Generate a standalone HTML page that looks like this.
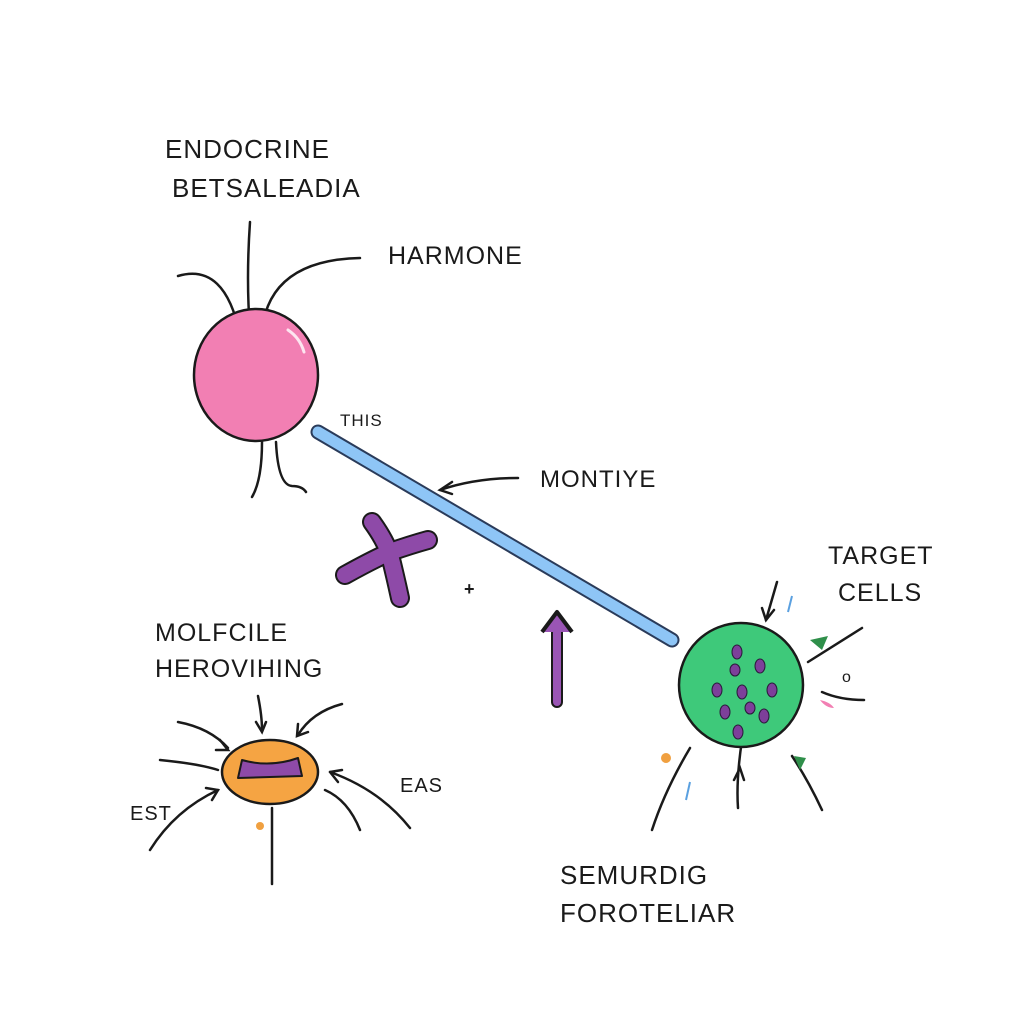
<!DOCTYPE html>
<html><head><meta charset="utf-8"><style>
html,body{margin:0;padding:0;background:#fff;}
svg{display:block}
text{font-family:"Liberation Sans",sans-serif;fill:#1a1a1a;letter-spacing:1px}
</style></head><body>
<svg width="1024" height="1024" viewBox="0 0 1024 1024" xmlns="http://www.w3.org/2000/svg">
<rect width="1024" height="1024" fill="#fff"/>
<g stroke="#1a1a1a" stroke-width="2.5" fill="none" stroke-linecap="round">
<!-- pink cell lines -->
<path d="M250 222 Q246 280 250 330"/>
<path d="M178 276 Q225 262 240 335"/>
<path d="M262 330 Q270 260 360 258"/>
<path d="M262 442 Q262 480 252 497"/>
<path d="M276 442 Q278 485 292 486 Q302 486 306 492"/>
<!-- montiye arrow -->
<path d="M518 478 Q475 478 440 490"/>
<path d="M452 482 L440 490 L452 494"/>
<!-- green cell arrows -->
<path d="M777 582 L766 620"/><path d="M762 608 L766 620 L774 610"/>
<path d="M862 628 L808 662"/>
<path d="M864 700 Q840 700 822 692"/>
<path d="M742 740 Q736 780 738 808"/><path d="M734 780 L740 768 L744 780"/>
<path d="M822 810 Q808 780 792 756"/>
<path d="M690 748 Q665 790 652 830"/>
<!-- orange cell arrows -->
<path d="M258 696 Q262 716 262 730"/><path d="M256 722 L262 732 L266 722"/>
<path d="M342 704 Q312 712 298 735"/><path d="M298 724 L297 736 L308 732"/>
<path d="M178 722 Q210 728 228 748"/><path d="M220 740 L228 750 L216 750"/>
<path d="M160 760 Q200 764 218 770"/>
<path d="M150 850 Q175 810 218 790"/><path d="M206 788 L218 790 L212 800"/>
<path d="M330 772 Q380 790 410 828"/><path d="M330 772 L342 770 M330 772 L338 782"/>
<path d="M325 790 Q348 800 360 830"/>
<path d="M272 808 L272 884"/>
</g>
<!-- pink cell -->
<ellipse cx="256" cy="375" rx="62" ry="66" fill="#f27fb3" stroke="#1a1a1a" stroke-width="2.5"/>
<path d="M288 330 Q300 338 304 352" stroke="#fff" stroke-width="3" fill="none" stroke-linecap="round" opacity=".8"/>
<!-- blue rod -->
<path d="M318 432 L672 640" stroke="#2a3b5a" stroke-width="15" stroke-linecap="round"/>
<path d="M318 432 L672 640" stroke="#8ec5f6" stroke-width="11" stroke-linecap="round"/>
<!-- purple X -->
<path d="M372 522 Q385 540 390 555 Q395 575 400 598 M345 575 Q372 560 390 552 Q410 545 428 540" stroke="#1a1a1a" stroke-width="20" stroke-linecap="round" fill="none"/>
<path d="M372 522 Q385 540 390 555 Q395 575 400 598 M345 575 Q372 560 390 552 Q410 545 428 540" stroke="#8e4aa8" stroke-width="16" stroke-linecap="round" fill="none"/>
<text x="464" y="595" font-size="18" font-weight="bold">+</text>
<!-- purple up arrow -->
<path d="M557 702 L557 626" stroke="#1a1a1a" stroke-width="12" stroke-linecap="round"/>
<path d="M557 702 L557 626" stroke="#9a55b5" stroke-width="8" stroke-linecap="round"/>
<path d="M542 632 L557 612 L572 632" stroke="#1a1a1a" stroke-width="4" fill="#9a55b5" stroke-linejoin="round"/>
<!-- green cell -->
<circle cx="741" cy="685" r="62" fill="#3ec97a" stroke="#1a1a1a" stroke-width="2.5"/>
<g fill="#7d3f9a" stroke="#2a1a3a" stroke-width="1">
<ellipse cx="737" cy="652" rx="5" ry="7"/><ellipse cx="760" cy="666" rx="5" ry="7"/>
<ellipse cx="717" cy="690" rx="5" ry="7"/><ellipse cx="742" cy="692" rx="5" ry="7"/>
<ellipse cx="772" cy="690" rx="5" ry="7"/><ellipse cx="725" cy="712" rx="5" ry="7"/>
<ellipse cx="764" cy="716" rx="5" ry="7"/><ellipse cx="738" cy="732" rx="5" ry="7"/>
<ellipse cx="735" cy="670" rx="5" ry="6"/><ellipse cx="750" cy="708" rx="5" ry="6"/>
</g>
<path d="M810 640 L822 650 L828 636 Z" fill="#2f8f4a"/>
<path d="M800 770 L794 756 L806 758 Z" fill="#2f8f4a"/>
<path d="M820 700 Q830 702 834 708 Q826 708 820 700Z" fill="#f27fb3"/>
<path d="M792 596 L788 612" stroke="#5aa0e0" stroke-width="2"/>
<path d="M690 782 L686 800" stroke="#5aa0e0" stroke-width="2"/>
<circle cx="666" cy="758" r="5" fill="#f0a040"/>
<text x="842" y="682" font-size="16">o</text>
<!-- orange cell -->
<ellipse cx="270" cy="772" rx="48" ry="32" fill="#f5a443" stroke="#1a1a1a" stroke-width="2.5"/>
<path d="M238 778 L242 760 Q270 768 298 758 L302 776 Z" fill="#8e4aa8" stroke="#1a1a1a" stroke-width="2" stroke-linejoin="round"/>
<circle cx="260" cy="826" r="4" fill="#f0a040"/>
<!-- labels -->
<text x="165" y="158" font-size="26">ENDOCRINE</text>
<text x="172" y="197" font-size="26">BETSALEADIA</text>
<text x="388" y="264" font-size="25">HARMONE</text>
<text x="340" y="426" font-size="17">THIS</text>
<text x="540" y="487" font-size="24">MONTIYE</text>
<text x="828" y="564" font-size="25">TARGET</text>
<text x="838" y="601" font-size="25">CELLS</text>
<text x="155" y="641" font-size="25">MOLFCILE</text>
<text x="155" y="677" font-size="25">HEROVIHING</text>
<text x="130" y="820" font-size="20">EST</text>
<text x="400" y="792" font-size="20">EAS</text>
<text x="560" y="884" font-size="26">SEMURDIG</text>
<text x="560" y="922" font-size="26">FOROTELIAR</text>
</svg>
</body></html>
